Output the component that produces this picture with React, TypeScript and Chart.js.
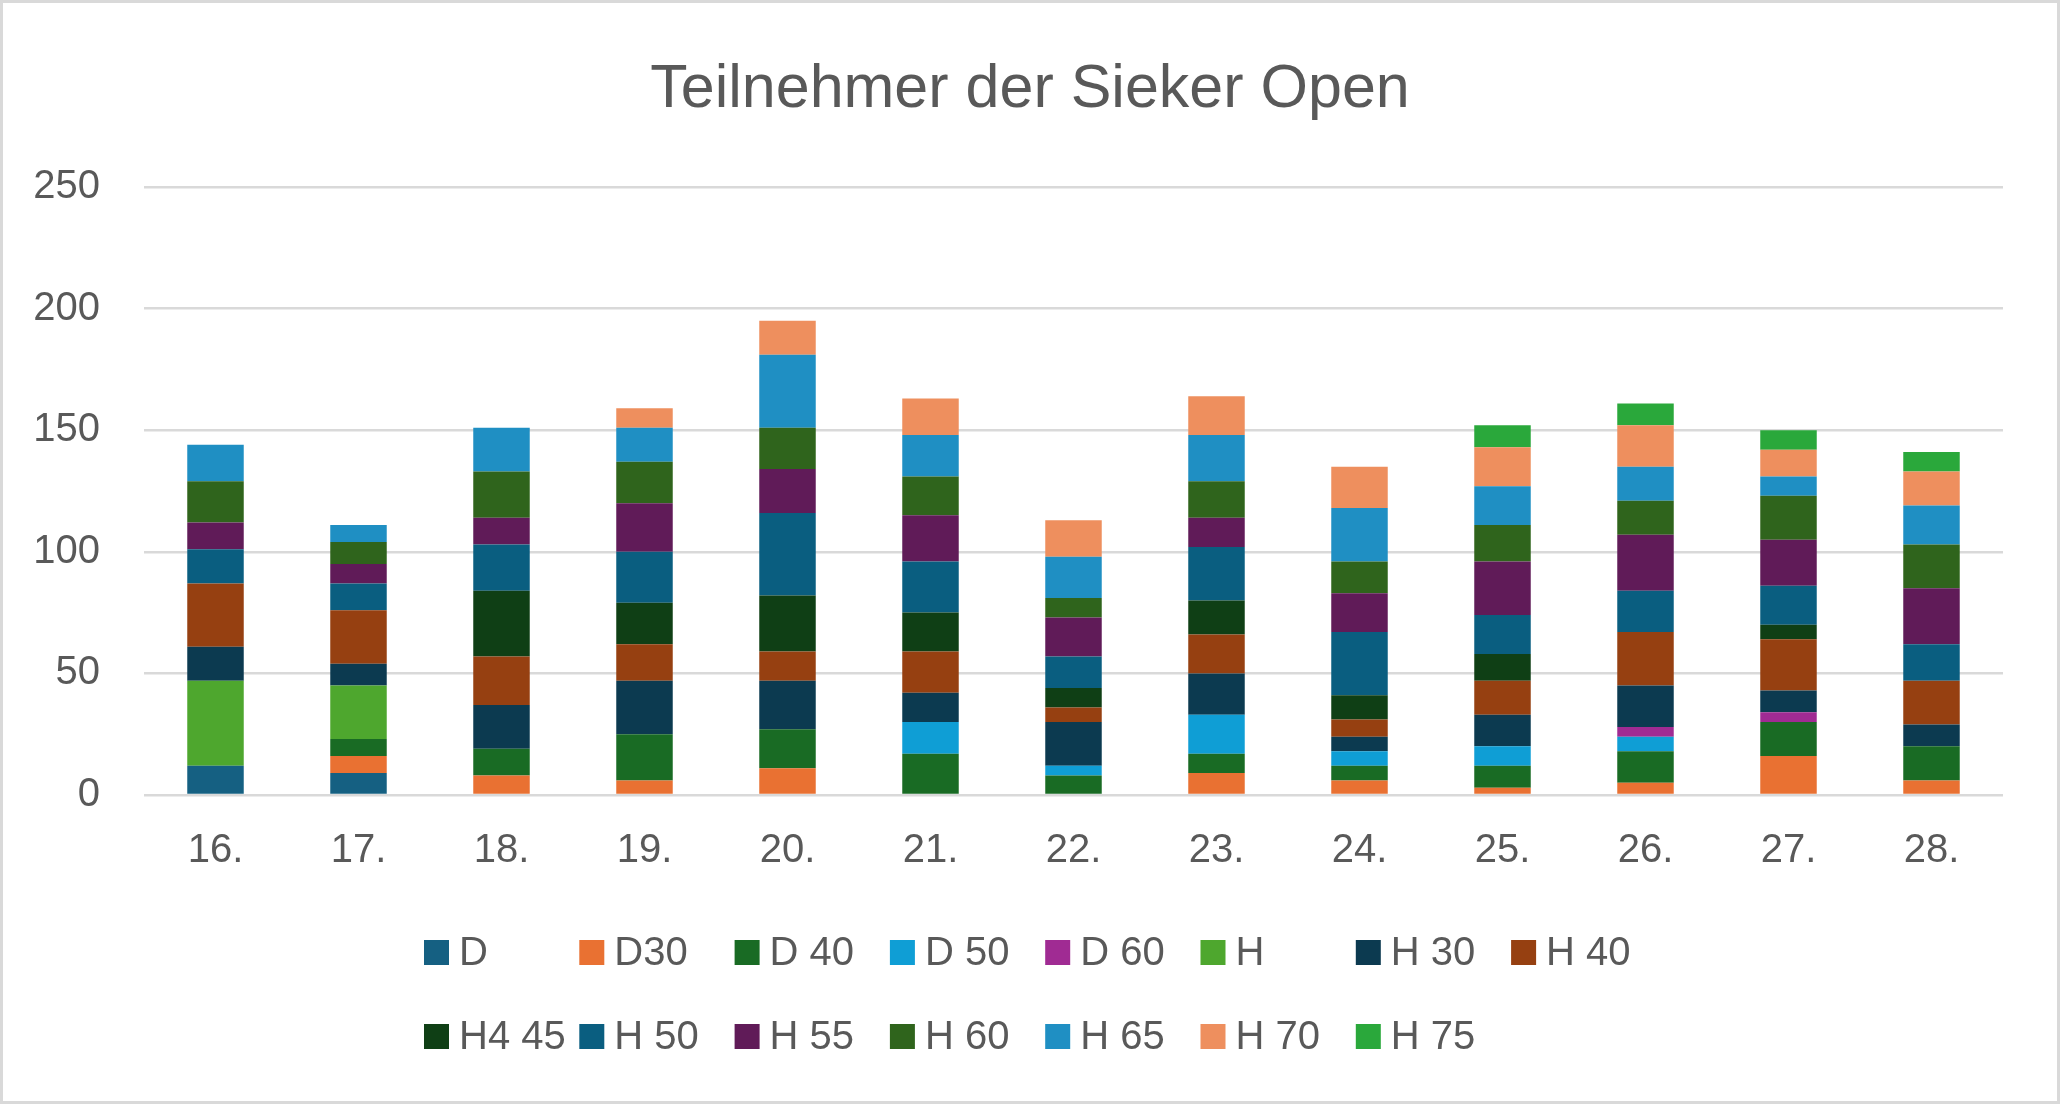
import { useEffect, useRef } from 'react';
import { Chart, registerables } from 'chart.js';
import type { Plugin } from 'chart.js';

Chart.register(...registerables);

const FONT = '"Liberation Sans", Arial, sans-serif';
const TEXT = '#595959';
const GRID = '#d9d9d9';

const TITLE = 'Teilnehmer der Sieker Open';

// Turniere (x-Achse)
const categories = ['16.', '17.', '18.', '19.', '20.', '21.', '22.', '23.', '24.', '25.', '26.', '27.', '28.'];

// Teilnehmer je Klasse
const d = [12, 9, 0, 0, 0, 0, 0, 0, 0, 0, 0, 0, 0];
const d30 = [0, 7, 8, 6, 11, 0, 0, 9, 6, 3, 5, 16, 6];
const d40 = [0, 7, 11, 19, 16, 17, 8, 8, 6, 9, 13, 14, 14];
const d50 = [0, 0, 0, 0, 0, 13, 4, 16, 6, 8, 6, 0, 0];
const d60 = [0, 0, 0, 0, 0, 0, 0, 0, 0, 0, 4, 4, 0];
const h = [35, 22, 0, 0, 0, 0, 0, 0, 0, 0, 0, 0, 0];
const h30 = [14, 9, 18, 22, 20, 12, 18, 17, 6, 13, 17, 9, 9];
const h40 = [26, 22, 20, 15, 12, 17, 6, 16, 7, 14, 22, 21, 18];
const h445 = [0, 0, 27, 17, 23, 16, 8, 14, 10, 11, 0, 6, 0];
const h50 = [14, 11, 19, 21, 34, 21, 13, 22, 26, 16, 17, 16, 15];
const h55 = [11, 8, 11, 20, 18, 19, 16, 12, 16, 22, 23, 19, 23];
const h60 = [17, 9, 19, 17, 17, 16, 8, 15, 13, 15, 14, 18, 18];
const h65 = [15, 7, 18, 14, 30, 17, 17, 19, 22, 16, 14, 8, 16];
const h70 = [0, 0, 0, 8, 14, 15, 15, 16, 17, 16, 17, 11, 14];
const h75 = [0, 0, 0, 0, 0, 0, 0, 0, 0, 9, 9, 8, 8];

const seriesLabels = ['D', 'D30', 'D 40', 'D 50', 'D 60', 'H', 'H 30', 'H 40', 'H4 45', 'H 50', 'H 55', 'H 60', 'H 65', 'H 70', 'H 75'];
const seriesValues = [d, d30, d40, d50, d60, h, h30, h40, h445, h50, h55, h60, h65, h70, h75];
const seriesColors = [
  '#156082', '#E97132', '#196B24', '#0F9ED5', '#A02B93', '#4EA72E',
  '#0C3A50', '#964011', '#0F3F15', '#0A5E80', '#601B58', '#2F641C',
  '#1F8FC3', '#EE8F5E', '#2AA83B',
];

const yTicks = [0, 50, 100, 150, 200, 250];

// white background, light frame and the title centred on the whole canvas
const frame: Plugin<'bar'> = {
  id: 'frame',
  beforeDraw(chart) {
    const { ctx, width, height } = chart;
    ctx.save();
    ctx.fillStyle = '#ffffff';
    ctx.fillRect(0, 0, width, height);
    ctx.strokeStyle = GRID;
    ctx.lineWidth = 3;
    ctx.strokeRect(1.5, 1.5, width - 3, height - 3);
    ctx.fillStyle = TEXT;
    ctx.font = `61px ${FONT}`;
    ctx.textAlign = 'center';
    ctx.textBaseline = 'alphabetic';
    ctx.fillText(TITLE, width / 2, 107);
    ctx.restore();
  },
};

// legend in fixed columns (8 in first row, 7 in second)
const columnLegend: Plugin<'bar'> = {
  id: 'columnLegend',
  afterDraw(chart) {
    const { ctx } = chart;
    ctx.save();
    ctx.font = `40px ${FONT}`;
    ctx.textBaseline = 'alphabetic';
    ctx.textAlign = 'left';
    chart.data.datasets.forEach((ds, i) => {
      const row = i < 8 ? 0 : 1;
      const col = row === 0 ? i : i - 8;
      const x = 424 + col * 155.3;
      const base = 965 + row * 84;
      ctx.fillStyle = ds.backgroundColor as string;
      ctx.fillRect(x, base - 25, 25, 25);
      ctx.fillStyle = TEXT;
      ctx.fillText(ds.label ?? '', x + 35, base);
    });
    ctx.restore();
  },
};

export default function App() {
  const canvasRef = useRef<HTMLCanvasElement>(null);

  useEffect(() => {
    document.body.style.margin = '0';
    if (!canvasRef.current) return;

    const chart = new Chart(canvasRef.current, {
      type: 'bar',
      data: {
        labels: categories,
        datasets: seriesLabels.map((label, i) => ({
          label,
          data: seriesValues[i],
          backgroundColor: seriesColors[i],
          borderWidth: 0,
          barPercentage: 0.395,
          categoryPercentage: 1,
        })),
      },
      options: {
        responsive: true,
        maintainAspectRatio: false,
        animation: false,
        layout: { padding: { top: 187, left: 0, right: 57, bottom: 200 } },
        plugins: {
          legend: { display: false },
          tooltip: { enabled: false },
          title: { display: false },
        },
        scales: {
          x: {
            stacked: true,
            grid: { display: false, drawTicks: false },
            border: { display: false },
            ticks: { color: TEXT, font: { family: FONT, size: 40 }, padding: 32 },
            afterFit: (scale) => {
              scale.height = 109;
            },
          },
          y: {
            stacked: true,
            min: 0,
            max: 250,
            grid: { color: GRID, lineWidth: 2.5, drawTicks: false },
            border: { display: false },
            afterBuildTicks: (scale) => {
              scale.ticks = yTicks.map((value) => ({ value }));
            },
            ticks: { color: TEXT, font: { family: FONT, size: 40 }, padding: 44 },
            afterFit: (scale) => {
              scale.width = 144;
            },
          },
        },
      },
      plugins: [frame, columnLegend],
    });

    return () => {
      chart.destroy();
    };
  }, []);

  return (
    <div style={{ position: 'fixed', left: 0, top: 0, width: 2060, height: 1104 }}>
      <canvas ref={canvasRef} />
    </div>
  );
}
